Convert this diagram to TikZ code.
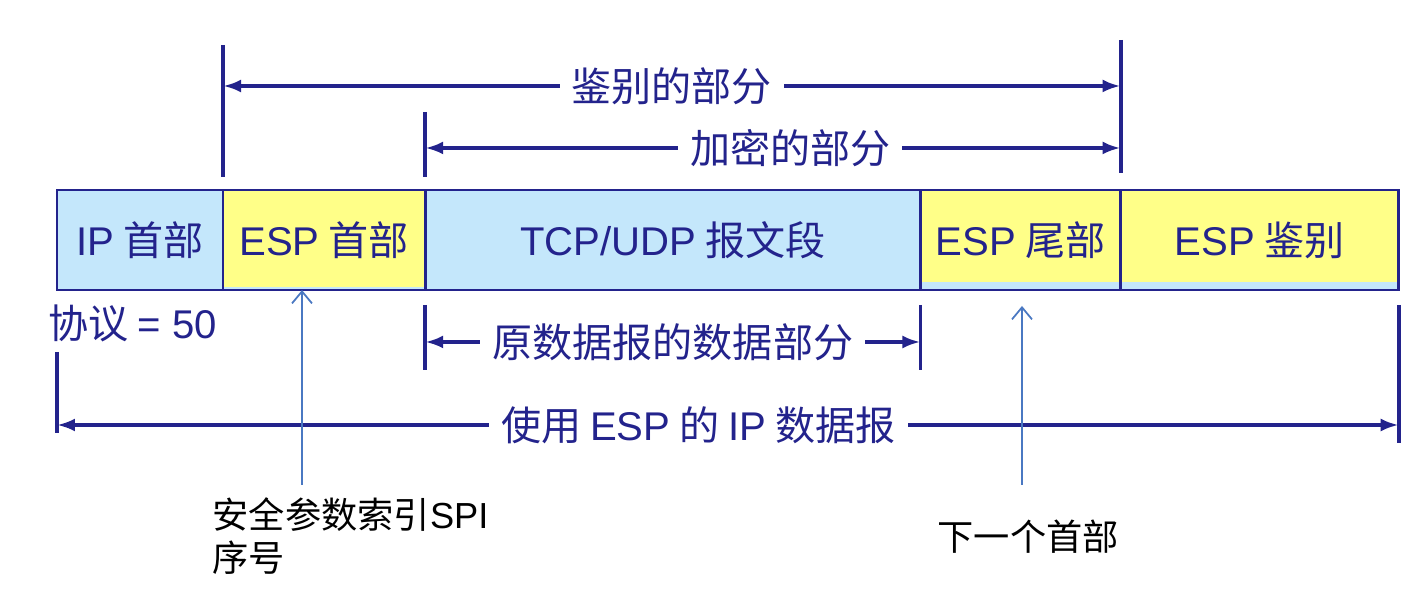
\documentclass[tikz,border=0pt]{standalone}
\usepackage{fontspec}
\setmainfont{Noto Sans CJK SC}
\newfontfamily\latfont{Liberation Sans}
\newcommand{\lat}[1]{{\latfont #1}}
\usetikzlibrary{positioning,arrows.meta}
\definecolor{espnavy}{HTML}{23238C}
\definecolor{ipblue}{HTML}{C4E7FB}
\definecolor{espyellow}{HTML}{FFFF88}
\definecolor{ptrblue}{HTML}{4A78C2}
\tikzset{
    every node/.style={font=\fontsize{11.4}{13}\selectfont},
    field/.style={draw=espnavy,line width=0.8pt,fill=ipblue,minimum height=1cm,outer sep=0pt,inner sep=0pt,text=espnavy},
    espfield/.style={field,path picture={\fill[espyellow] (path picture bounding box.north west) rectangle ([yshift=#1]path picture bounding box.south east);}},
    tick/.style={draw=espnavy,line width=1.1pt},
    span/.style={draw=espnavy,line width=1.1pt,{Latex[length=1.8mm,width=1.3mm]}-{Latex[length=1.8mm,width=1.3mm]}},
    spanlabel/.style={fill=white,text=espnavy,inner xsep=0.12cm,inner ysep=1pt},
    pointer/.style={draw=ptrblue,line width=0.5pt,-{Straight Barb[length=1.2mm,width=2mm]}},
    note/.style={font=\fontsize{10.3}{12.2}\selectfont,align=left,inner sep=0pt}
}
\begin{document}
\begin{tikzpicture}[x=0.01cm,y=-0.01cm]
\useasboundingbox (0,0) rectangle (1408,616);
% datagram fields
\node[field,minimum width=1.66cm] (iphdr) at (140,240) {\lat{IP} 首部};
\node[espfield=0.03cm,minimum width=2.02cm,right=0pt of iphdr] (esphdr) {\lat{ESP} 首部};
\node[field,minimum width=4.95cm,right=0pt of esphdr] (payload) {\lat{TCP/UDP} 报文段};
\node[espfield=0.08cm,minimum width=2cm,right=0pt of payload] (esptrl) {\lat{ESP} 尾部};
\node[espfield=0.08cm,minimum width=2.78cm,right=0pt of esptrl] (espauth) {\lat{ESP} 鉴别};
\node[anchor=west,text=espnavy,inner sep=0pt] (proto) at (48,323) {协议 \lat{= 50}};
% spans above
\draw[tick] (esphdr.north west |- 0,45) -- (esphdr.north west |- 0,177);
\draw[tick] (payload.north west |- 0,112) -- (payload.north west |- 0,177);
\draw[tick] (espauth.north west |- 0,40) -- (espauth.north west |- 0,173);
\draw[span] (esphdr.north west |- 0,86) -- node[spanlabel] (authlbl) {鉴别的部分} (espauth.north west |- 0,86);
\draw[span] (payload.north west |- 0,148) -- node[spanlabel,pos=0.525] (enclbl) {加密的部分} (espauth.north west |- 0,148);
% spans below
\draw[tick] (payload.south west |- 0,305) -- (payload.south west |- 0,370);
\draw[tick] (esptrl.south west |- 0,305) -- (esptrl.south west |- 0,370);
\draw[span] (payload.south west |- 0,342) -- node[spanlabel] (datalbl) {原数据报的数据部分} (esptrl.south west |- 0,342);
\draw[tick] (iphdr.south west |- 0,352) -- (iphdr.south west |- 0,433);
\draw[tick] (espauth.south east |- 0,305) -- (espauth.south east |- 0,443);
\draw[span] (iphdr.south west |- 0,425) -- node[spanlabel,pos=0.478] (dgramlbl) {使用 \lat{ESP} 的 \lat{IP} 数据报} (espauth.south east |- 0,425);
% notes
\node[note,anchor=north west] (spinote) at (212,497) {安全参数索引\lat{SPI}\\序号};
\node[note,anchor=west] (nhnote) at (937,537) {下一个首部};
\coordinate (spifoot) at (302,485);
\coordinate (nhfoot) at (1022,485);
\draw[pointer] (spifoot) -- (spifoot |- esphdr.south);
\draw[pointer] (nhfoot) -- (nhfoot |- 0,306);
\end{tikzpicture}
\end{document}
